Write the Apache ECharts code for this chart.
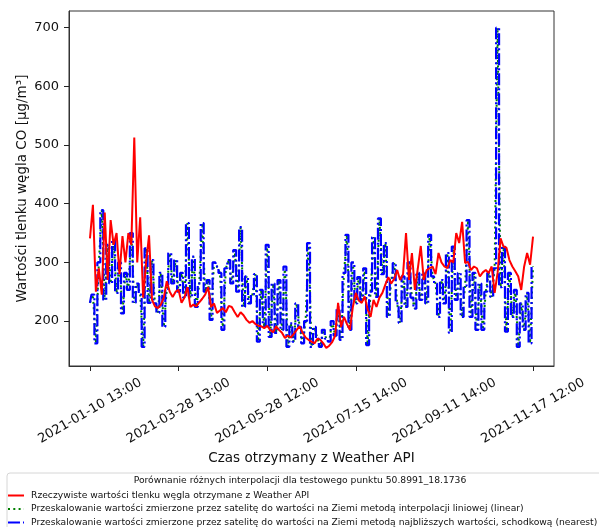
<!DOCTYPE html>
<html><head><meta charset="utf-8">
<script src="https://cdn.jsdelivr.net/npm/echarts@6/dist/echarts.min.js"></script>
<style>html,body{margin:0;padding:0;background:#fff}#c{width:599px;height:527px}</style>
</head><body><div id="c"></div>
<script>
const tickLabels = ['2021-01-10 13:00','2021-03-28 13:00','2021-05-28 12:00','2021-07-15 14:00','2021-09-11 14:00','2021-11-17 12:00'];
const tickIndex = [0,30,60,90,120,150];
const yTicks = [200,300,400,500,600,700];
const seriesNames = [
  'Rzeczywiste wartości tlenku węgla otrzymane z Weather API',
  'Przeskalowanie wartości zmierzone przez satelitę do wartości na Ziemi metodą interpolacji liniowej (linear)',
  'Przeskalowanie wartości zmierzone przez satelitę do wartości na Ziemi metodą najbliższych wartości, schodkową (nearest)'
];
const legendTitle = 'Porównanie różnych interpolacji dla testowego punktu 50.8991_18.1736';
// Weather API (ground truth) values, one per time index
const redValues = [
 341,398,250,290,245,385,270,372,330,350,
 280,345,300,350,330,513,300,377,240,300,
 346,236,225,222,228,240,268,250,241,250,
 253,231,240,258,224,228,225,232,238,245,
 258,224,230,214,218,222,215,226,224,215,
 207,215,210,202,197,200,195,192,191,188,
 192,185,181,191,185,180,171,175,172,178,
 185,191,180,172,168,165,162,170,168,162,
 154,158,164,175,231,190,207,195,185,224,
 248,235,231,242,220,207,236,224,240,248,
 262,275,264,272,287,270,280,350,270,316,
 253,290,328,270,287,290,293,280,316,300,
 293,290,304,300,350,333,369,299,301,287,
 293,290,276,283,287,282,293,248,282,341,
 327,325,304,293,285,276,253,293,316,296,
 344];
// rescaled satellite values, one per time index
const satValues = [
 231,245,162,300,389,236,330,264,338,248,
 300,213,282,253,350,231,264,245,156,324,
 231,304,230,214,282,190,253,316,264,304,
 250,282,240,367,240,310,224,264,367,250,
 270,202,300,293,282,185,290,304,264,321,
 250,360,224,276,230,245,280,165,253,190,
 330,173,264,180,270,185,293,156,196,165,
 230,190,162,200,333,156,190,170,156,185,
 170,165,200,175,224,168,282,347,185,300,
 230,275,236,290,159,250,343,241,375,280,
 333,207,270,299,230,197,276,224,300,240,
 221,282,236,282,230,347,276,264,207,270,
 230,316,180,327,236,282,207,260,372,207,
 282,185,264,185,250,282,241,290,700,258,
 327,182,282,207,253,156,230,185,248,162,
 293];

const toPairs = arr => arr.map((v, i) => [i, v]);
const FONT = 'DejaVu Sans';
const chart = echarts.init(document.getElementById('c'), null, {renderer: 'canvas'});
chart.setOption({
  animation: false,
  backgroundColor: '#fff',
  textStyle: {fontFamily: FONT},
  grid: {left: 69, right: 45, top: 11, bottom: 161, show: true, borderColor: '#333', borderWidth: 1, backgroundColor: 'transparent'},
  title: {
    text: legendTitle, left: 300, top: 476, textAlign: 'center', padding: 0,
    textStyle: {fontSize: 9.2, fontWeight: 'normal', color: '#111', fontFamily: FONT}
  },
  legend: {
    orient: 'vertical', left: 7, top: 491, itemWidth: 16, itemHeight: 8, itemGap: 4.5, padding: 0,
    itemStyle: {opacity: 0, borderWidth: 0},
    textStyle: {fontSize: 9.2, color: '#111', fontFamily: FONT, padding: [0, 0, 0, 2]},
    data: seriesNames
  },
  graphic: [{
    type: 'rect', silent: true, z: -1,
    shape: {x: 7, y: 473, width: 640, height: 90, r: 3},
    style: {fill: '#fff', stroke: '#d6d6d6', lineWidth: 1}
  }],
  xAxis: {
    type: 'value', min: -7.1, max: 157.1,
    splitLine: {show: false}, axisLine: {show: true, onZero: false, lineStyle: {color: '#333'}},
    axisTick: {show: true, length: 5, customValues: tickIndex, lineStyle: {color: '#222', width: 1}},
    axisLabel: {
      customValues: tickIndex,
      formatter: v => { const k = tickIndex.indexOf(v); return k >= 0 ? tickLabels[k] : ''; },
      rotate: 30, align: 'center', verticalAlign: 'middle', margin: 45,
      fontSize: 13, color: '#111', fontFamily: FONT
    },
    name: 'Czas otrzymany z Weather API', nameLocation: 'middle', nameGap: 85, nameMoveOverlap: false,
    nameTextStyle: {fontSize: 13.5, color: '#111', fontFamily: FONT}
  },
  yAxis: {
    type: 'value', min: 123.4, max: 728.5,
    splitLine: {show: false}, axisLine: {show: true, onZero: false, lineStyle: {color: '#333'}},
    axisTick: {show: true, length: 5, customValues: yTicks, lineStyle: {color: '#222', width: 1}},
    axisLabel: {customValues: yTicks, margin: 10, fontSize: 13, color: '#111', fontFamily: FONT},
    name: 'Wartości tlenku węgla CO [μg/m³]', nameLocation: 'middle', nameGap: 40, nameMoveOverlap: false,
    nameTextStyle: {fontSize: 13.5, color: '#111', fontFamily: FONT}
  },
  series: [
    {
      name: seriesNames[0], type: 'line', data: toPairs(redValues), z: 4,
      symbol: 'none', lineStyle: {color: '#ff0000', width: 2}, itemStyle: {color: '#ff0000'}
    },
    {
      name: seriesNames[1], type: 'line', data: toPairs(satValues), z: 2,
      symbol: 'none', lineStyle: {color: '#008000', width: 2, type: [2, 3.3]}, itemStyle: {color: '#008000'}
    },
    {
      name: seriesNames[2], type: 'line', data: toPairs(satValues), z: 3, step: 'middle',
      symbol: 'none', lineStyle: {color: '#0000ff', width: 2.2, type: [12, 3, 2, 3]}, itemStyle: {color: '#0000ff'}
    }
  ]
});
</script>
</body></html>
